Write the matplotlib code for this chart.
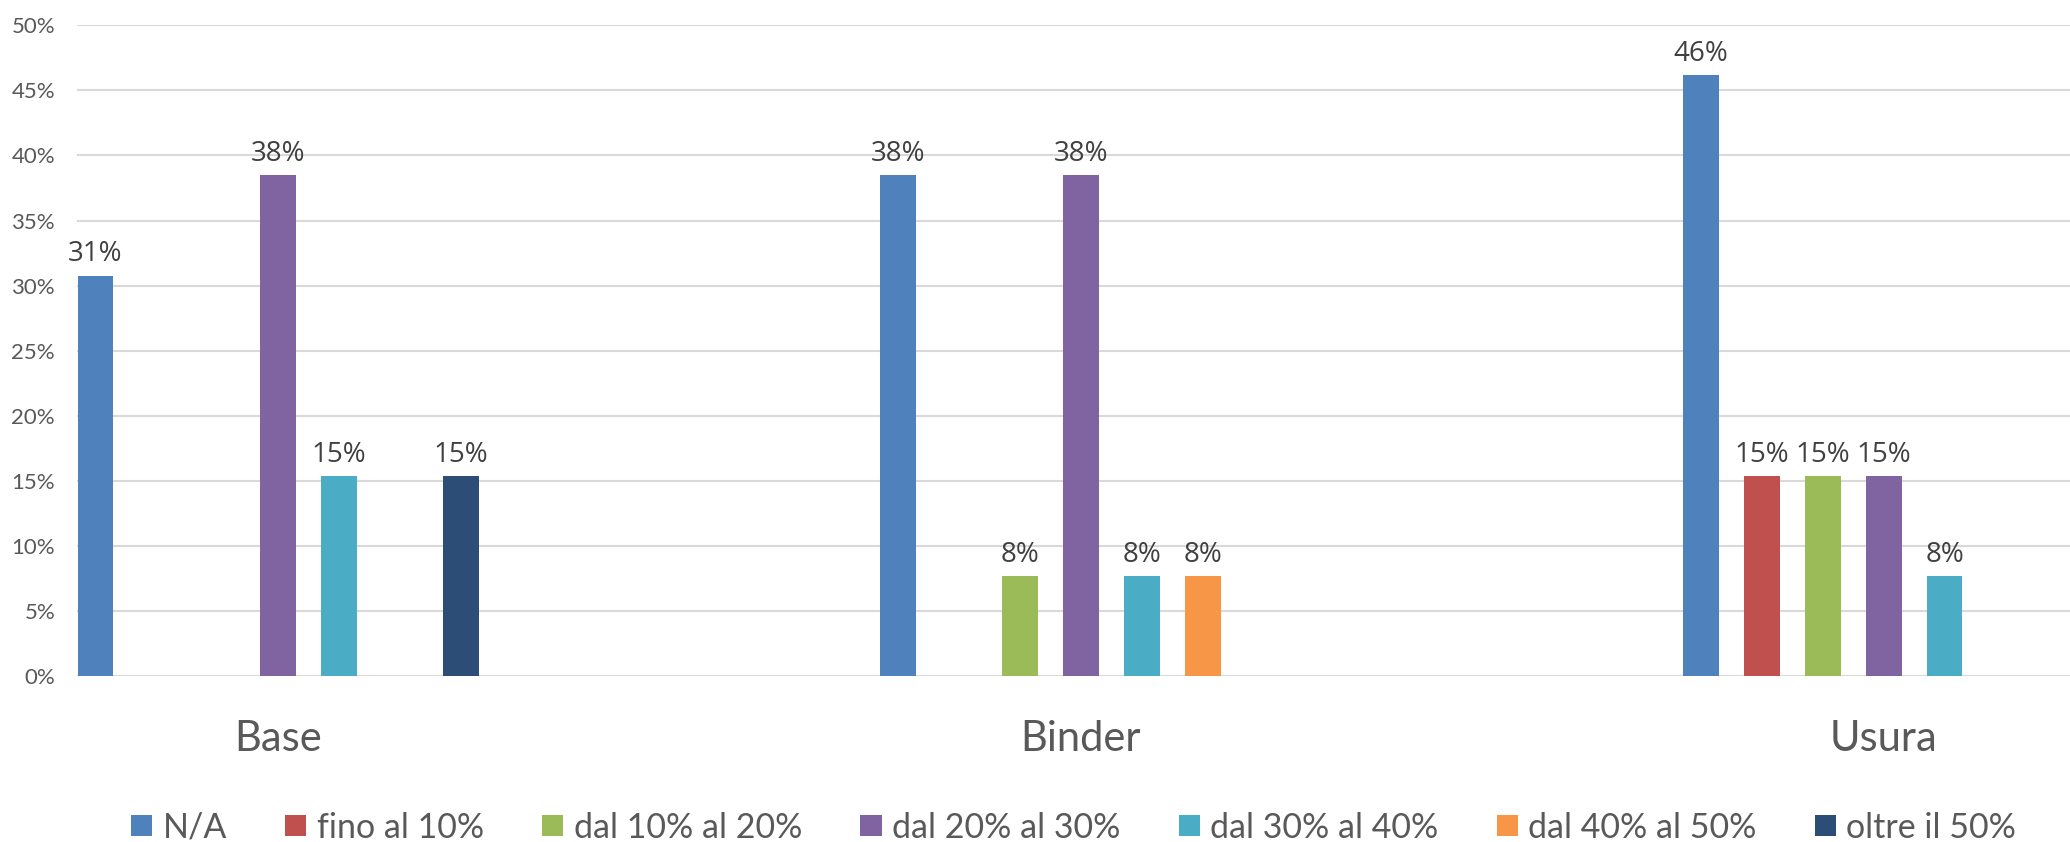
import numpy as np
import matplotlib
matplotlib.use("Agg")
import matplotlib.pyplot as plt
import matplotlib.transforms as mtransforms
from matplotlib.patches import Patch

# ---- data -------------------------------------------------------------
categories = ["Base", "Binder", "Usura"]
series_names = ["N/A", "fino al 10%", "dal 10% al 20%", "dal 20% al 30%",
                "dal 30% al 40%", "dal 40% al 50%", "oltre il 50%"]
# share of answers per layer (None = no answers)
na_vals        = [0.3077, 0.3846, 0.4615]
fino10_vals    = [None,   None,   0.1538]
dal10_20_vals  = [None,   0.0769, 0.1538]
dal20_30_vals  = [0.3846, 0.3846, 0.1538]
dal30_40_vals  = [0.1538, 0.0769, 0.0769]
dal40_50_vals  = [None,   0.0769, None]
oltre50_vals   = [0.1538, None,   None]
yticks = [0.0, 0.05, 0.10, 0.15, 0.20, 0.25, 0.30, 0.35, 0.40, 0.45, 0.50]

series_values = [na_vals, fino10_vals, dal10_20_vals, dal20_30_vals,
                 dal30_40_vals, dal40_50_vals, oltre50_vals]
colors = ["#4F81BD", "#C0504D", "#9BBB59", "#8064A2",
          "#4BACC6", "#F79646", "#2C4D75"]

# ---- figure -----------------------------------------------------------
W, H, DPI = 2070, 842, 100
fig = plt.figure(figsize=(W / DPI, H / DPI), dpi=DPI)
ax_left, ax_right = 77.3, 2070.0
ax_top, ax_bottom = 25.3, 676.0
ax = fig.add_axes([ax_left / W, (H - ax_bottom) / H,
                   (ax_right - ax_left) / W, (ax_bottom - ax_top) / H])

FONT = ["Lato", "DejaVu Sans"]
LABEL_FONT = ["Open Sans", "DejaVu Sans"]
TEXT_GRAY = "#595959"

slot = 0.0759
bar_w = 0.0445
x = np.arange(len(categories))

for i, (name, vals, col) in enumerate(zip(series_names, series_values, colors)):
    v = np.array([np.nan if a is None else a for a in vals], dtype=float)
    pos = x + (i - 3) * slot
    ax.bar(pos, np.nan_to_num(v), width=bar_w, color=col, zorder=3,
           edgecolor="none")
    for px_, val in zip(pos, v):
        if np.isnan(val):
            continue
        ax.annotate(f"{val:.0%}", (px_, val), xytext=(0, 10.3),
                    textcoords="offset points", ha="center", va="baseline",
                    fontsize=20, color="#404040", family=LABEL_FONT, zorder=4)

ax.set_ylim(0, 0.5)
ax.set_xlim(-0.2504, 2.2321)
ax.set_yticks(yticks)
ax.set_yticklabels([f"{t:.0%}" for t in yticks], family=FONT,
                   fontsize=16, color=TEXT_GRAY)
ax.tick_params(axis="y", length=0, pad=16)
ax.set_xticks([])
for s in ax.spines.values():
    s.set_visible(False)
ax.grid(axis="y", color="#D9D9D9", linewidth=1.5, zorder=0)
ax.axhline(0, color="#D9D9D9", linewidth=1.8, zorder=2)

# category names below the axis
trans = mtransforms.blended_transform_factory(ax.transData, ax.transAxes)
for xi, cat in zip(x, categories):
    ax.text(xi, -0.1153, cat, transform=trans, ha="center", va="baseline",
            fontsize=30, color=TEXT_GRAY, family=FONT)

# legend
handles = [Patch(facecolor=c, edgecolor="none", label=n)
           for n, c in zip(series_names, colors)]
leg = fig.legend(handles=handles, loc="center", ncol=7, frameon=False,
                 bbox_to_anchor=((ax_left + ax_right) / 2 / W, 0.017),
                 prop={"family": FONT, "size": 24.5},
                 handlelength=0.62, handleheight=0.6, handletextpad=0.3,
                 columnspacing=1.72, borderaxespad=0, borderpad=0)
for t in leg.get_texts():
    t.set_color(TEXT_GRAY)

fig.savefig("out.png", dpi=DPI, facecolor="white")
